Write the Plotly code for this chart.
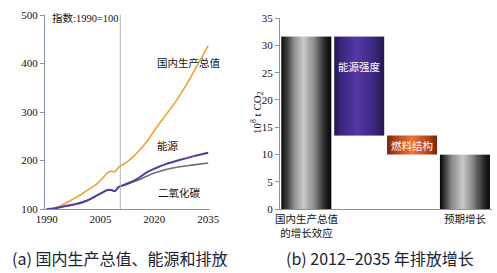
import plotly.graph_objects as go
import numpy as np

# ---------- data: panel (a) ----------
gdp_years = [1990, 1992, 1994, 1996, 1998, 2000, 2002, 2004, 2006, 2007, 2008, 2009, 2010,
             2012, 2014, 2016, 2018, 2020, 2022, 2024, 2026, 2028, 2030, 2032, 2035]
gdp_index = [100, 101, 107, 115, 123, 132, 142, 152, 167, 175, 178, 177, 186,
             195, 207, 222, 240, 262, 282, 302, 322, 345, 370, 397, 437]

energy_years = [1990, 1992, 1994, 1996, 1998, 2000, 2002, 2004, 2006, 2007, 2008, 2009, 2010,
                2012, 2015, 2018, 2020, 2023, 2027, 2031, 2035]
energy_index = [100, 101, 104, 107, 110, 114, 120, 128, 136, 139, 139, 137, 145,
                151, 161, 176, 183, 192, 201, 209, 216]

co2_years = [1990, 1992, 1994, 1996, 1998, 2000, 2002, 2004, 2006, 2007, 2008, 2009, 2010,
             2012, 2015, 2018, 2020, 2023, 2027, 2031, 2035]
co2_index = [100, 101, 104, 107, 110, 114, 120, 128, 136, 139, 139, 137, 145,
             150, 158, 168, 174, 181, 187, 191, 195]

divider_year = 2010.5
left_xticks = [1990, 2005, 2020, 2035]
left_yticks = [100, 200, 300, 400, 500]

# ---------- data: panel (b) ----------
bar_names = ["国内生产总值<br>的增长效应", "能源强度", "燃料结构", "预期增长"]
bar_base = [0, 13.5, 10.0, 0]
bar_top = [31.6, 31.6, 13.5, 10.0]
right_yticks = [0, 5, 10, 15, 20, 25, 30, 35]

SERIF = "Liberation Serif, Noto Sans CJK SC"
CJK = "Noto Sans CJK SC"
AX = "#8595a5"

fig = go.Figure()

# panel (a) lines
fig.add_trace(go.Scatter(x=gdp_years, y=gdp_index, mode="lines", line=dict(color="#f2a035", width=1.6, shape="spline"),
                         xaxis="x", yaxis="y", hoverinfo="skip"))
fig.add_trace(go.Scatter(x=co2_years, y=co2_index, mode="lines", line=dict(color="#6e6e72", width=1.6, shape="spline"),
                         xaxis="x", yaxis="y", hoverinfo="skip"))
fig.add_trace(go.Scatter(x=energy_years, y=energy_index, mode="lines", line=dict(color="#5a3a9e", width=2.0, shape="spline"),
                         xaxis="x", yaxis="y", hoverinfo="skip"))

# panel (b) shaded bars as heatmaps
gray_cs = [[0, "#050505"], [0.08, "#2e2e2e"], [0.25, "#8c8e90"], [0.45, "#c8cacc"],
           [0.65, "#8a8c8e"], [0.85, "#303030"], [1, "#040404"]]
purple_cs = [[0, "#22164a"], [0.15, "#3a2780"], [0.45, "#5438a6"], [0.75, "#3f2a86"], [1, "#24184c"]]
orange_cs = [[0, "#7a2408"], [0.2, "#b8451a"], [0.5, "#ee7436"], [0.8, "#b8451a"], [1, "#7a2408"]]
scales = [gray_cs, purple_cs, orange_cs, gray_cs]
W = 0.95
N = 48
for i in range(len(bar_names)):
    xe = np.linspace(i - W / 2, i + W / 2, N + 1)
    t = (xe[:-1] + xe[1:]) / 2
    z = [((t - (i - W / 2)) / W).tolist()]
    fig.add_trace(go.Heatmap(x=xe, y=[bar_base[i], bar_top[i]], z=z, colorscale=scales[i],
                             zmin=0, zmax=1, showscale=False, hoverinfo="skip",
                             xaxis="x2", yaxis="y2"))

fig.add_shape(type="line", xref="x", yref="y", x0=divider_year, x1=divider_year, y0=100, y1=500,
              line=dict(color="#a8b0b8", width=1))

ann = []
ann.append(dict(xref="x", yref="y", x=2029.6, y=402, text="国内生产总值", showarrow=False,
                font=dict(family=CJK, size=10.5, color="#111")))
ann.append(dict(xref="x", yref="y", x=2023.8, y=231, text="能源", showarrow=False,
                font=dict(family=CJK, size=10.5, color="#111")))
ann.append(dict(xref="x", yref="y", x=2026.9, y=135, text="二氧化碳", showarrow=False,
                font=dict(family=CJK, size=10.5, color="#111")))
ann.append(dict(xref="x", yref="y", x=1991.0, y=494, text="指数:1990=100", showarrow=False,
                xanchor="left", yanchor="middle",
                font=dict(family=SERIF, size=10.5, color="#111")))
# bar labels inside
ann.append(dict(xref="x2", yref="y2", x=1, y=bar_base[1] + 0.7 * (bar_top[1] - bar_base[1]), text="能源强度",
                showarrow=False, font=dict(family=CJK, size=10.5, color="white")))
ann.append(dict(xref="x2", yref="y2", x=2, y=(bar_base[2] + bar_top[2]) / 2, text="燃料结构",
                showarrow=False, font=dict(family=CJK, size=10.5, color="white")))
# right y title
ann.append(dict(xref="paper", yref="paper", x=257 / 497, y=1 - 113 / 273, text="10<sup>8</sup> t CO<sub>2</sub>",
                textangle=-90, showarrow=False, xanchor="center", yanchor="middle",
                font=dict(family=SERIF, size=11, color="#111")))
# captions
ann.append(dict(xref="paper", yref="paper", x=119 / 497, y=1 - 258 / 273, text="(a) 国内生产总值、能源和排放",
                showarrow=False, xanchor="center", yanchor="middle",
                font=dict(family=CJK, size=16, color="#1a2233")))
ann.append(dict(xref="paper", yref="paper", x=380 / 497, y=1 - 258 / 273, text="(b) 2012−2035 年排放增长",
                showarrow=False, xanchor="center", yanchor="middle",
                font=dict(family=CJK, size=16, color="#1a2233")))

fig.update_layout(
    width=497, height=273, margin=dict(l=0, r=0, t=0, b=0, autoexpand=False),
    paper_bgcolor="white", plot_bgcolor="white", showlegend=False,
    annotations=ann,
    xaxis=dict(domain=[44.9 / 497, 210 / 497], range=[1989.5, 2035.5], tickvals=left_xticks,
               showgrid=False, zeroline=False, showline=True, linecolor=AX, linewidth=1, automargin=False,
               ticks="", tickfont=dict(family=SERIF, size=11, color="#111"), anchor="y"),
    yaxis=dict(domain=[1 - 209 / 273, 1 - 15 / 273], range=[100, 500], tickvals=left_yticks,
               showgrid=False, zeroline=False, showline=True, linecolor=AX, linewidth=1, automargin=False,
               ticks="outside", ticklen=4, tickcolor=AX,
               tickfont=dict(family=SERIF, size=11, color="#111"), anchor="x"),
    xaxis2=dict(domain=[280 / 497, 491.5 / 497], range=[-0.5, 3.5], tickvals=[0, 3],
                ticktext=[bar_names[0], bar_names[3]], automargin=False,
                showgrid=False, zeroline=False, showline=True, linecolor=AX, linewidth=1,
                ticks="", tickfont=dict(family=SERIF, size=10.5, color="#111"), anchor="y2"),
    yaxis2=dict(domain=[1 - 209.3 / 273, 1 - 18 / 273], range=[0, 35], tickvals=right_yticks,
                showgrid=False, zeroline=False, showline=True, linecolor=AX, linewidth=1, automargin=False,
                ticks="outside", ticklen=4, tickcolor=AX,
                tickfont=dict(family=SERIF, size=11, color="#111"), anchor="x2"),
)

fig.write_html("out.html", config={"displayModeBar": False},
               post_script="document.body.style.margin='0';document.body.style.overflow='hidden';")
